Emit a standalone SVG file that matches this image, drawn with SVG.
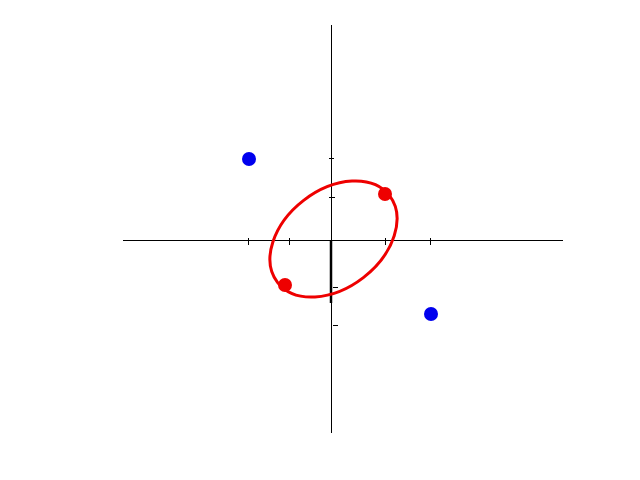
<svg xmlns="http://www.w3.org/2000/svg" width="640" height="480" viewBox="0 0 640 480">
<style>
.ax{stroke:#000;stroke-width:1;fill:none}
.tk{stroke:#000;stroke-width:1;fill:none}
.blue{fill:#0000ee}
.red{fill:#ee0000}
</style>
<rect width="640" height="480" fill="#fff"/>
<g id="axes">
<line class="ax" x1="123" y1="240.5" x2="563" y2="240.5"/>
<line class="ax" x1="331.5" y1="25" x2="331.5" y2="433"/>
<line x1="331" y1="241" x2="331" y2="303" stroke="#000" stroke-width="2.5"/>
</g>
<g id="ticks">
<line class="tk" x1="248.5" y1="238" x2="248.5" y2="245"/>
<line class="tk" x1="289.5" y1="238" x2="289.5" y2="245"/>
<line class="tk" x1="385.5" y1="238" x2="385.5" y2="245"/>
<line class="tk" x1="430.5" y1="238" x2="430.5" y2="245"/>
<line class="tk" x1="329" y1="158.5" x2="334" y2="158.5"/>
<line class="tk" x1="329" y1="197.5" x2="335" y2="197.5"/>
<line class="tk" x1="333" y1="287.5" x2="338" y2="287.5"/>
<line class="tk" x1="333" y1="325.5" x2="338" y2="325.5"/>
</g>
<g id="ellipse">
<ellipse cx="333.5" cy="239" rx="70.8" ry="48.8" transform="rotate(-37.7 333.5 239)" fill="none" stroke="#ee0000" stroke-width="3"/>
</g>
<g id="blue1"><circle class="blue" cx="249" cy="159" r="7"/></g>
<g id="blue2"><circle class="blue" cx="431" cy="314" r="7"/></g>
<g id="red1"><circle class="red" cx="385" cy="194" r="7"/></g>
<g id="red2"><circle class="red" cx="285" cy="285" r="7"/></g>
</svg>
